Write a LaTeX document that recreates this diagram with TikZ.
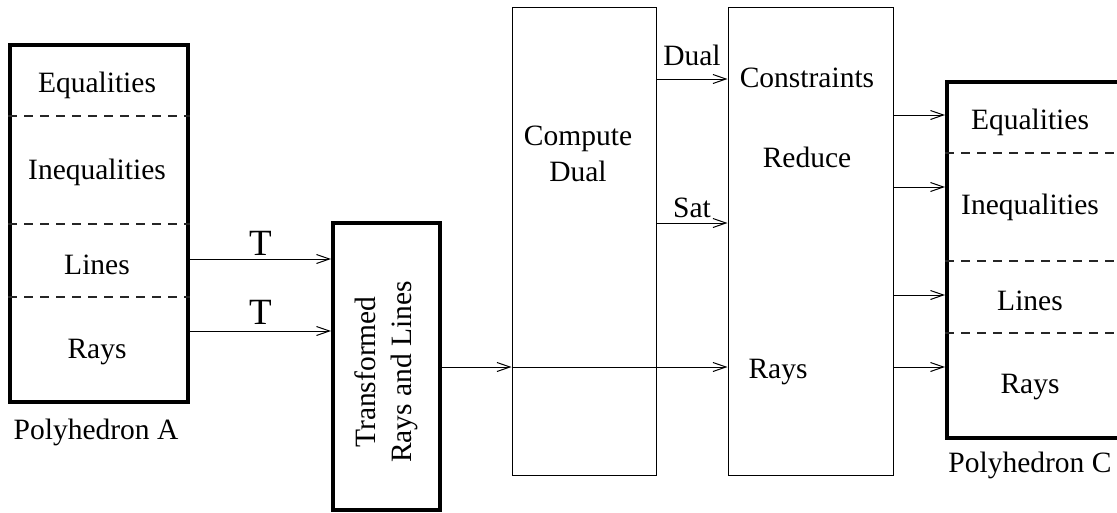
\documentclass[tikz,border=0pt]{standalone}
\usepackage{fontspec}
\setmainfont{Liberation Serif}
\usetikzlibrary{arrows.meta}

\begin{document}
\begin{tikzpicture}[x=1pt,y=-1pt]
        \tikzstyle{every node}=[font=\fontsize{29.5}{36}\selectfont,inner sep=0pt]
        \tikzstyle{heavybox}=[draw,line width=4pt,shape=rectangle]
        \tikzstyle{thinbox}=[draw,line width=1pt,shape=rectangle]
        \tikzstyle{flow}=[line width=1pt,-{Straight Barb[length=13pt,width=9pt,line width=1pt]}]
        \tikzstyle{split}=[line width=1.2pt,dash pattern=on 9pt off 7pt,color=black!85]
        \useasboundingbox (0,0) rectangle (1117,512);
            % boxes
            \node[heavybox,minimum width=178pt,minimum height=357pt] (pa) at (99,223.5) {};
            \node[heavybox,minimum width=107pt,minimum height=287pt] (tr) at (386.5,366.5) {};
            \node[thinbox,minimum width=144pt,minimum height=468pt] (cd) at (584,241) {};
            \node[thinbox,minimum width=165pt,minimum height=468pt] (rd) at (810.5,241) {};
            \node[heavybox,minimum width=175pt,minimum height=356pt] (pc) at (1034.5,260) {};

            % polyhedron A
            \node (paeq) at (97,85) {Equalities};
            \node (pain) at (97,172) {Inequalities};
            \node (pali) at (97,265) {Lines};
            \node (para) at (97,352) {Rays};
            \node (palab) at (96,432) {Polyhedron A};
            \draw[split] (pa.west |- 0,116) -- (pa.east |- 0,116)
            (pa.west |- 0,224) -- (pa.east |- 0,224)
            (pa.west |- 0,297) -- (pa.east |- 0,297);

            % transformed
            \node[rotate=90,align=center] (trtx) at (386,372) {Transformed\\Rays and Lines};

            % compute dual and reduce
            \node[align=center] (cdtx) at (578,154) {Compute\\Dual};
            \node (rdco) at (807,78) {Constraints};
            \node (rdre) at (807,157) {Reduce};
            \node (rdra) at (778,372) {Rays};

            % polyhedron C
            \node (pceq) at (1030,122) {Equalities};
            \node (pcin) at (1030,207) {Inequalities};
            \node (pcli) at (1030,301) {Lines};
            \node (pcra) at (1030,387) {Rays};
            \node (pclab) at (1030,465) {Polyhedron C};
            \draw[split] (pc.west |- 0,153) -- (pc.east |- 0,153)
            (pc.west |- 0,261) -- (pc.east |- 0,261)
            (pc.west |- 0,333) -- (pc.east |- 0,333);

            % connectors
            \draw[flow] (pa.east |- 0,259) -- node[above=3pt,font=\fontsize{37}{40}\selectfont] {T} (tr.west |- 0,259);
            \draw[flow] (pa.east |- 0,331) -- node[above=6pt,font=\fontsize{37}{40}\selectfont] {T} (tr.west |- 0,331);
            \draw[flow] (tr.east |- 0,367) -- (cd.west |- 0,367);
            \draw[flow] (cd.west |- 0,367) -- (rd.west |- 0,367);
            \draw[flow] (cd.east |- 0,79) -- node[above=13pt] {Dual} (rd.west |- 0,79);
            \draw[flow] (cd.east |- 0,223) -- node[above=5pt] {Sat} (rd.west |- 0,223);
            \draw[flow] (rd.east |- 0,115) -- (pc.west |- 0,115);
            \draw[flow] (rd.east |- 0,187) -- (pc.west |- 0,187);
            \draw[flow] (rd.east |- 0,295) -- (pc.west |- 0,295);
            \draw[flow] (rd.east |- 0,367) -- (pc.west |- 0,367);
\end{tikzpicture}
\end{document}
